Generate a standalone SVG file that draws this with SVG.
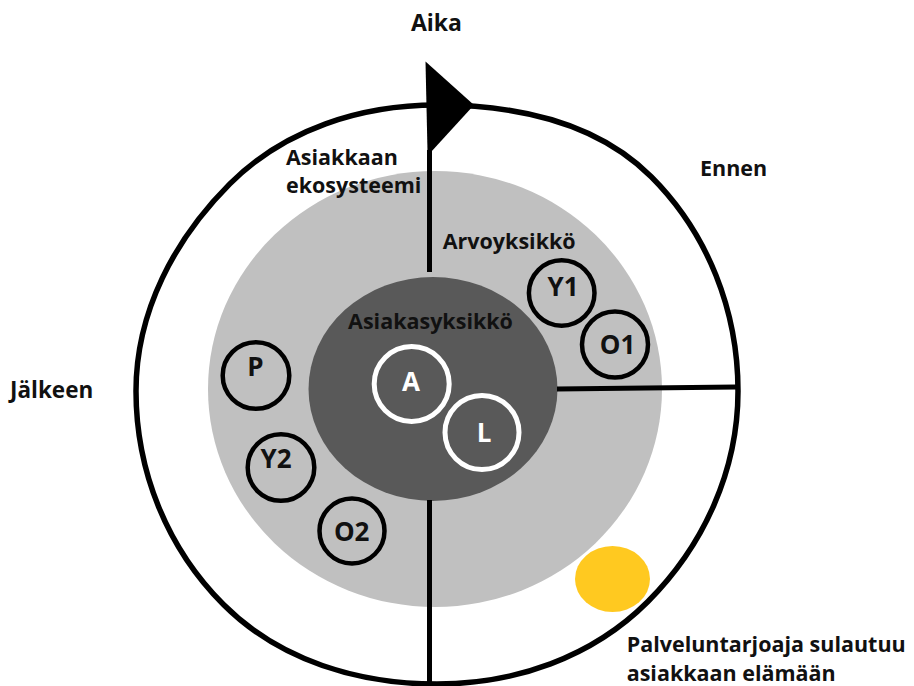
<svg xmlns="http://www.w3.org/2000/svg" width="914" height="686" viewBox="0 0 914 686">
<style>
text{font-family:"Open Sans","Noto Sans","Liberation Sans",sans-serif;font-weight:bold;fill:#111}
.lbl{font-size:21.5px}
.cap{font-size:26px;text-anchor:middle}
.ring{fill:none;stroke:#000;stroke-width:4.5}
.wring{fill:none;stroke:#fff;stroke-width:5}
.ln{stroke:#000;stroke-width:5;fill:none;stroke-linecap:butt}
</style>
<rect width="914" height="686" fill="#fff"/>
<g id="outer-ring">
<path d="M738,391 C738,311.2 708.1,233.6 651.25,176.75 C594.4,119.9 512.8,105 437,105 C361.2,105 284.76,128.88 229.82,183.82 C174.88,238.76 136,311.2 136,391 C136,470.8 166.81,547.91 223.45,604.55 C280.09,661.19 359.3,684 437,684 C514.7,684 591.86,657.58 647.72,601.72 C703.58,545.86 738,470.8 738,391 Z" fill="#fff" stroke="#000" stroke-width="5.5"/>
</g>
<g id="ecosystem">
<ellipse cx="435" cy="389" rx="227" ry="218" fill="#c0c0c0"/>
</g>
<g id="customer-unit">
<ellipse cx="433" cy="389" rx="124.5" ry="112" fill="#595959"/>
</g>
<g id="connectors">
<line class="ln" x1="429.5" y1="150" x2="429.5" y2="272"/>
<polygon points="425.5,61.5 474,105 431,152 427.5,152" fill="#000"/>
<line class="ln" x1="429.5" y1="500" x2="429.5" y2="686"/>
<line class="ln" x1="557" y1="389" x2="736" y2="387"/>
</g>
<g id="node-Y1"><circle class="ring" cx="561.7" cy="293" r="32.8"/><text class="cap" x="563" y="296">Y1</text></g>
<g id="node-O1"><circle class="ring" cx="615" cy="344.5" r="33"/><text class="cap" x="617.5" y="354">O1</text></g>
<g id="node-P"><circle class="ring" cx="256" cy="375.5" r="33.3"/><text class="cap" x="255.5" y="376">P</text></g>
<g id="node-Y2"><circle class="ring" cx="281" cy="467.5" r="33.3"/><text class="cap" x="276" y="468">Y2</text></g>
<g id="node-O2"><circle class="ring" cx="352" cy="531" r="32.5"/><text class="cap" x="351.7" y="540.5">O2</text></g>
<g id="node-A"><circle class="wring" cx="411.7" cy="384" r="37.5"/><text class="cap" x="411" y="391" style="fill:#fff">A</text></g>
<g id="node-L"><circle class="wring" cx="482" cy="432.5" r="37"/><text class="cap" x="484" y="442" style="fill:#fff">L</text></g>
<g id="provider"><ellipse cx="612.5" cy="579" rx="37.5" ry="33" fill="#ffc920"/></g>
<g id="labels">
<text class="lbl" x="436.5" y="31" style="font-size:23px;text-anchor:middle">Aika</text>
<text class="lbl" x="700" y="175.7">Ennen</text>
<text class="lbl" x="10" y="397.7" style="font-size:22.5px">Jälkeen</text>
<text class="lbl" x="286" y="164.5">Asiakkaan</text>
<text class="lbl" x="286" y="193.3">ekosysteemi</text>
<text class="lbl" x="442.7" y="249.3">Arvoyksikkö</text>
<text class="lbl" x="430.5" y="329" style="font-size:21.5px;text-anchor:middle">Asiakasyksikkö</text>
<text class="lbl" x="626.7" y="651.7">Palveluntarjoaja sulautuu</text>
<text class="lbl" x="626.7" y="680.7">asiakkaan elämään</text>
</g>
</svg>
